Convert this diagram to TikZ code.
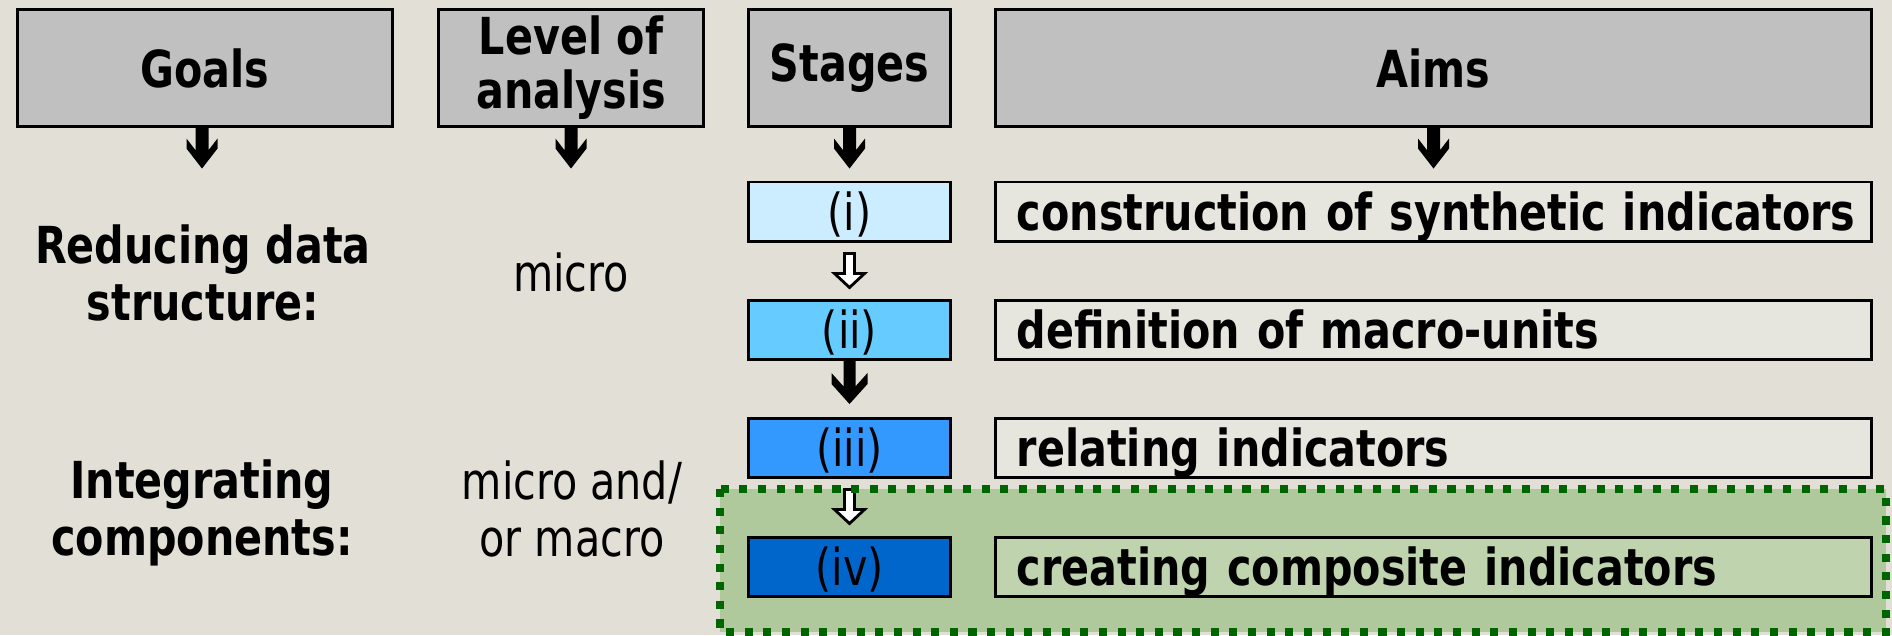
\documentclass[tikz,border=0pt]{standalone}
\usepackage{fontspec}
\setmainfont{DejaVu Sans Condensed}[FakeStretch=0.9]
\usepackage{tikz}
\usetikzlibrary{calc}

\newcommand{\diagfont}{\fontsize{14.5}{16.2}\selectfont}
\newcommand{\diagbf}{\fontsize{14.5}{16.2}\selectfont\bfseries}
\newcommand{\headbf}{\fontsize{14.5}{15.4}\selectfont\bfseries}

\definecolor{bgcol}{RGB}{226,224,214}
\definecolor{headgray}{RGB}{192,192,192}
\definecolor{stagei}{RGB}{204,236,255}
\definecolor{stageii}{RGB}{102,204,255}
\definecolor{stageiii}{RGB}{51,153,255}
\definecolor{stageiv}{RGB}{0,102,204}
\definecolor{zonegreen}{RGB}{80,160,50}
\definecolor{zoneline}{RGB}{0,100,0}

\tikzset{
  headbox/.style={draw, line width=0.85pt, fill=headgray, minimum width=#1, minimum height=1.16cm, inner ysep=0pt, align=center, font=\headbf},
  stagebox/.style={draw, line width=0.85pt, fill=#1, minimum width=2.01cm, minimum height=0.59cm, inner sep=0pt, text height=12pt, text depth=1.4pt, font=\diagfont},
  aimbox/.style={draw, line width=0.85pt, fill=white, fill opacity=0.2, text opacity=1, minimum height=0.59cm, text width=8.33cm, inner xsep=0.21cm, inner ysep=0pt, text height=12pt, text depth=1.4pt, align=left, font=\diagbf, execute at begin node={\mbox\bgroup}, execute at end node={\egroup}},
  pics/chevarrow/.style n args={5}{code={
    \path[pic actions] (-#2,0) -- (#2,0) -- (#2,{#1-#4-#5+(#3-#2)*#4/#3}) -- (#3,#1-#4-#5) -- (#3,#1-#4) -- (0,#1) -- (-#3,#1-#4) -- (-#3,#1-#4-#5) -- (-#2,{#1-#4-#5+(#3-#2)*#4/#3}) -- cycle;}},
  pics/blockarrow/.style n args={4}{code={
    \path[pic actions] (-#2,0) -- (#2,0) -- (#2,#1-#4) -- (#3,#1-#4) -- (0,#1) -- (-#3,#1-#4) -- (-#2,#1-#4) -- cycle;}}
}

\begin{document}
\begin{tikzpicture}[x=0.01cm,y=-0.01cm]
\fill[bgcol] (0,0) rectangle (1892,635);
\useasboundingbox (0,0) rectangle (1892,635);
\fill[zonegreen, fill opacity=0.35] (720,489) rectangle (1886,632);
\node[headbox=3.74cm] (goals) at (205,68) {Goals};
\node[headbox=2.65cm] (level) at (571,68) {Level of\\analysis};
\node[headbox=2.01cm] (stages) at (849.5,68) {Stages};
\node[headbox=8.75cm] (aims) at (1433.5,68) {Aims};
\pic[fill=black] at ($(goals.south)+(-3,0)$) {chevarrow={41}{6.5}{15.5}{20}{10}};
\pic[fill=black] at (level.south) {chevarrow={41}{6.5}{15.5}{20}{10}};
\pic[fill=black] at (stages.south) {chevarrow={41}{6.5}{15.5}{20}{10}};
\pic[fill=black] at (aims.south) {chevarrow={41}{6.5}{15.5}{20}{10}};
\node[stagebox=stagei] (s1) at (849.5,211.5) {(i)};
\node[stagebox=stageii] (s2) at (849.5,330) {(ii)};
\node[stagebox=stageiii] (s3) at (849.5,447.5) {(iii)};
\node[stagebox=stageiv] (s4) at (849.5,567) {(iv)};
\node[aimbox] (a1) at (1433.5,211.5) {construction of synthetic indicators};
\node[aimbox] (a2) at (1433.5,330) {definition of macro-units};
\node[aimbox] (a3) at (1433.5,447.5) {relating indicators};
\node[aimbox] (a4) at (1433.5,567) {creating composite indicators};
\pic[draw, fill=white, line width=0.8pt] at ($(s1.south)+(0,11)$) {blockarrow={34}{5}{15}{14}};
\pic[fill=black] at (s2.south) {chevarrow={43}{6}{18}{20}{11}};
\pic[draw, fill=white, line width=0.8pt] at ($(s3.south)+(0,11)$) {blockarrow={34}{5}{15}{14}};
\node[align=center, font=\diagbf] (reduce) at (203,273) {Reducing data\\structure:};
\node[font=\diagfont] (micro) at (571,272) {micro};
\node[align=center, font=\diagbf] (integ) at (202,513) {Integrating\\components:};
\node[align=center, font=\diagfont] (micmac) at (572,509) {micro and/\\or macro};
\draw[zoneline, line width=2.3pt, dash pattern=on 2.3pt off 3pt] (720,489) rectangle (1886,632);
\end{tikzpicture}
\end{document}
